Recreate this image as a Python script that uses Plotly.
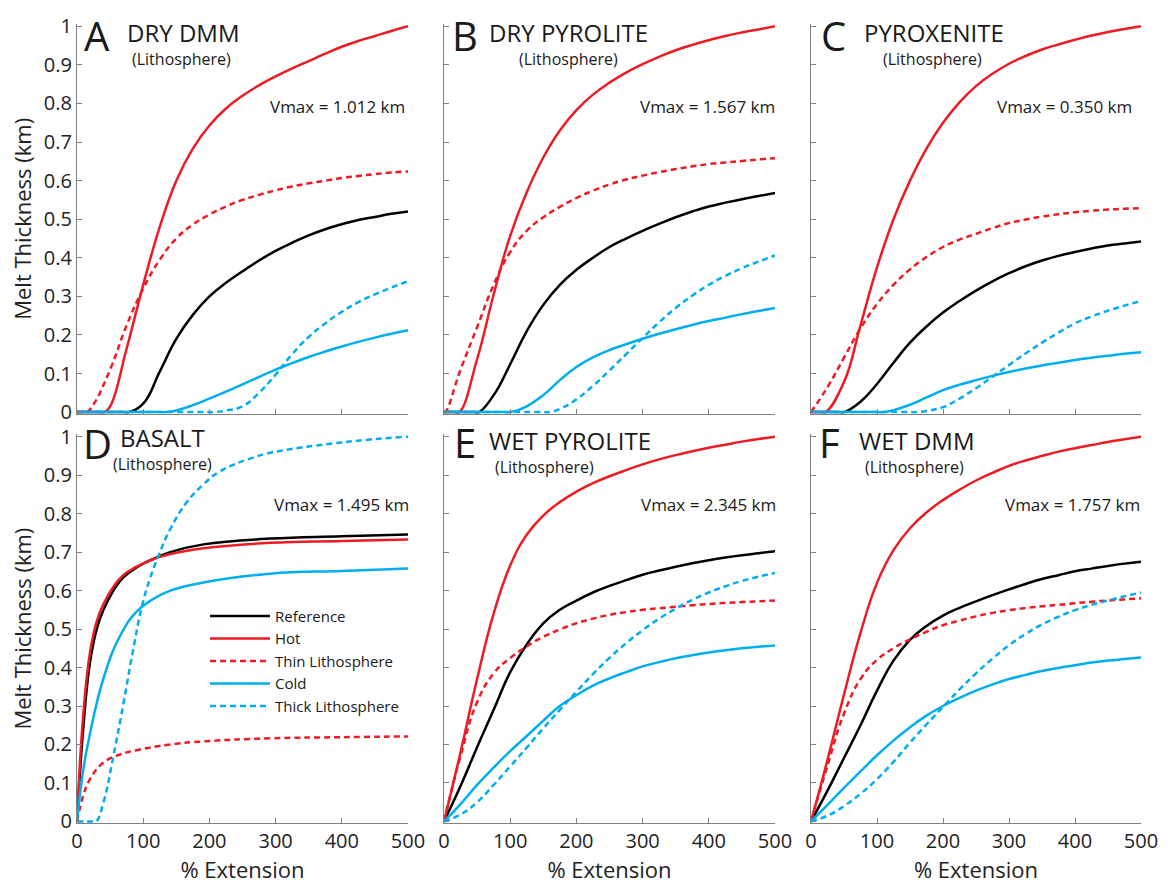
import plotly.graph_objects as go

# ---------------- data ----------------
# Panel A: DRY DMM
A_ref_x = [0, 70, 78, 100, 125, 150, 175, 200, 225, 250, 275, 300, 325, 350, 375, 400, 425, 450, 475, 500]
A_ref_y = [0, 0, 0, 0.022, 0.105, 0.19, 0.252, 0.30, 0.335, 0.365, 0.393, 0.418, 0.439, 0.458, 0.474, 0.487, 0.498, 0.506, 0.514, 0.52]
A_hot_x = [0, 34, 41, 50, 75, 100, 125, 150, 175, 200, 225, 250, 275, 300, 325, 350, 375, 400, 425, 450, 475, 500]
A_hot_y = [0, 0, 0, 0.015, 0.165, 0.33, 0.48, 0.60, 0.683, 0.743, 0.787, 0.82, 0.847, 0.87, 0.891, 0.91, 0.929, 0.947, 0.962, 0.975, 0.988, 1.0]
A_thin_x = [0, 9, 15, 25, 50, 75, 100, 125, 150, 175, 200, 225, 250, 275, 300, 325, 350, 375, 400, 425, 450, 475, 500]
A_thin_y = [0, 0, 0, 0.02, 0.11, 0.225, 0.32, 0.395, 0.45, 0.486, 0.512, 0.533, 0.55, 0.563, 0.575, 0.585, 0.593, 0.600, 0.607, 0.612, 0.617, 0.621, 0.624]
A_cold_x = [0, 126, 136, 150, 175, 200, 225, 250, 275, 300, 325, 350, 375, 400, 425, 450, 475, 500]
A_cold_y = [0, 0, 0, 0.004, 0.018, 0.035, 0.053, 0.072, 0.091, 0.11, 0.127, 0.143, 0.157, 0.17, 0.182, 0.193, 0.203, 0.212]
A_thick_x = [0, 195, 206, 225, 250, 275, 300, 325, 350, 375, 400, 425, 450, 475, 500]
A_thick_y = [0, 0, 0, 0.004, 0.015, 0.05, 0.097, 0.15, 0.195, 0.23, 0.26, 0.285, 0.305, 0.323, 0.339]

# Panel B: DRY PYROLITE
B_ref_x = [0, 45, 53, 75, 100, 125, 150, 175, 200, 225, 250, 275, 300, 325, 350, 375, 400, 425, 450, 475, 500]
B_ref_y = [0, 0, 0, 0.044, 0.124, 0.21, 0.278, 0.33, 0.369, 0.40, 0.428, 0.45, 0.47, 0.488, 0.505, 0.52, 0.533, 0.543, 0.552, 0.56, 0.568]
B_hot_x = [0, 16, 23, 50, 75, 100, 125, 150, 175, 200, 225, 250, 275, 300, 325, 350, 375, 400, 425, 450, 475, 500]
B_hot_y = [0, 0, 0, 0.137, 0.305, 0.457, 0.57, 0.66, 0.73, 0.783, 0.823, 0.854, 0.88, 0.902, 0.921, 0.938, 0.952, 0.964, 0.975, 0.984, 0.992, 1.0]
B_thin_x = [0, 2, 25, 50, 75, 100, 125, 150, 175, 200, 225, 250, 275, 300, 325, 350, 375, 400, 425, 450, 475, 500]
B_thin_y = [0, 0, 0.11, 0.22, 0.33, 0.415, 0.47, 0.505, 0.532, 0.555, 0.574, 0.59, 0.603, 0.613, 0.622, 0.63, 0.637, 0.643, 0.647, 0.651, 0.655, 0.658]
B_cold_x = [0, 90, 100, 125, 150, 175, 200, 225, 250, 275, 300, 325, 350, 375, 400, 425, 450, 475, 500]
B_cold_y = [0, 0, 0, 0.015, 0.044, 0.083, 0.117, 0.142, 0.161, 0.176, 0.19, 0.203, 0.215, 0.226, 0.236, 0.245, 0.254, 0.262, 0.27]
B_thick_x = [0, 150, 161, 175, 200, 225, 250, 275, 300, 325, 350, 375, 400, 425, 450, 475, 500]
B_thick_y = [0, 0, 0, 0.008, 0.033, 0.068, 0.108, 0.15, 0.192, 0.233, 0.27, 0.302, 0.33, 0.353, 0.373, 0.39, 0.406]

# Panel C: PYROXENITE
C_ref_x = [0, 42, 50, 75, 100, 125, 150, 175, 200, 225, 250, 275, 300, 325, 350, 375, 400, 425, 450, 475, 500]
C_ref_y = [0, 0, 0, 0.027, 0.073, 0.128, 0.18, 0.222, 0.258, 0.288, 0.315, 0.339, 0.36, 0.378, 0.393, 0.405, 0.415, 0.424, 0.432, 0.437, 0.442]
C_hot_x = [0, 15, 22, 50, 75, 100, 125, 150, 175, 200, 225, 250, 275, 300, 325, 350, 375, 400, 425, 450, 475, 500]
C_hot_y = [0, 0, 0, 0.078, 0.225, 0.375, 0.50, 0.60, 0.683, 0.750, 0.803, 0.845, 0.877, 0.903, 0.923, 0.94, 0.953, 0.965, 0.976, 0.985, 0.993, 1.0]
C_thin_x = [0, 25, 50, 75, 100, 125, 150, 175, 200, 225, 250, 275, 300, 325, 350, 375, 400, 425, 450, 475, 500]
C_thin_y = [0, 0.065, 0.141, 0.217, 0.28, 0.33, 0.37, 0.402, 0.428, 0.447, 0.462, 0.477, 0.49, 0.499, 0.507, 0.513, 0.518, 0.522, 0.525, 0.527, 0.529]
C_cold_x = [0, 100, 110, 125, 150, 175, 200, 225, 250, 275, 300, 325, 350, 375, 400, 425, 450, 475, 500]
C_cold_y = [0, 0, 0, 0.005, 0.019, 0.038, 0.057, 0.071, 0.083, 0.094, 0.104, 0.113, 0.121, 0.128, 0.135, 0.141, 0.146, 0.151, 0.155]
C_thick_x = [0, 150, 160, 175, 200, 225, 250, 275, 300, 325, 350, 375, 400, 425, 450, 475, 500]
C_thick_y = [0, 0, 0, 0.003, 0.013, 0.035, 0.062, 0.092, 0.122, 0.152, 0.18, 0.206, 0.23, 0.248, 0.263, 0.276, 0.288]

# Panel D: BASALT
D_ref_x = [0, 9.6, 19.7, 29.8, 40, 55, 70, 90, 116, 141, 191, 292, 400, 500]
D_ref_y = [0, 0.245, 0.414, 0.5, 0.55, 0.6, 0.634, 0.66, 0.683, 0.70, 0.72, 0.735, 0.741, 0.746]
D_hot_x = [0, 9.6, 19.7, 29.8, 40, 55, 70, 90, 116, 141, 191, 292, 400, 500]
D_hot_y = [0, 0.28, 0.44, 0.52, 0.565, 0.61, 0.64, 0.662, 0.682, 0.695, 0.71, 0.724, 0.729, 0.733]
D_thin_x = [0, 9.6, 19.7, 40, 65, 90, 141, 191, 292, 400, 500]
D_thin_y = [0, 0.068, 0.11, 0.153, 0.174, 0.185, 0.2, 0.208, 0.216, 0.219, 0.221]
D_cold_x = [0, 9.6, 19.7, 40, 65, 90, 116, 141, 191, 292, 400, 500]
D_cold_y = [0, 0.136, 0.229, 0.372, 0.482, 0.545, 0.579, 0.6, 0.621, 0.644, 0.651, 0.657]
D_thick_x = [0, 24, 29, 40, 55, 70, 85, 98, 110, 123, 141, 166, 191, 216, 267, 292, 400, 500]
D_thick_y = [0, 0, 0, 0.05, 0.17, 0.305, 0.448, 0.558, 0.63, 0.69, 0.76, 0.83, 0.876, 0.91, 0.946, 0.958, 0.985, 1.0]

# Panels E and F share one extension grid
EF_x = [0, 25, 50, 75, 100, 125, 150, 175, 200, 225, 250, 275, 300, 325, 350, 375, 400, 425, 450, 475, 500]

# Panel E: WET PYROLITE
E_ref_y = [0, 0.092, 0.193, 0.29, 0.388, 0.46, 0.515, 0.55, 0.574, 0.595, 0.612, 0.627, 0.641, 0.652, 0.662, 0.671, 0.679, 0.686, 0.692, 0.697, 0.702]
E_hot_y = [0, 0.18, 0.37, 0.54, 0.665, 0.745, 0.795, 0.830, 0.857, 0.879, 0.897, 0.913, 0.928, 0.941, 0.952, 0.962, 0.971, 0.979, 0.987, 0.994, 1.0]
E_thin_y = [0, 0.17, 0.31, 0.385, 0.425, 0.455, 0.48, 0.499, 0.515, 0.527, 0.537, 0.544, 0.55, 0.554, 0.558, 0.562, 0.565, 0.568, 0.57, 0.572, 0.574]
E_cold_y = [0, 0.045, 0.095, 0.14, 0.183, 0.222, 0.262, 0.3, 0.328, 0.353, 0.372, 0.388, 0.403, 0.414, 0.424, 0.432, 0.439, 0.445, 0.45, 0.454, 0.457]
E_thick_y = [0, 0.018, 0.05, 0.095, 0.143, 0.192, 0.242, 0.29, 0.337, 0.383, 0.425, 0.463, 0.497, 0.527, 0.553, 0.576, 0.595, 0.611, 0.625, 0.636, 0.646]

# Panel F: WET DMM
F_ref_y = [0, 0.08, 0.165, 0.25, 0.34, 0.418, 0.472, 0.508, 0.535, 0.555, 0.572, 0.588, 0.603, 0.617, 0.63, 0.64, 0.65, 0.657, 0.664, 0.67, 0.675]
F_hot_y = [0, 0.16, 0.33, 0.49, 0.62, 0.705, 0.762, 0.803, 0.835, 0.862, 0.886, 0.906, 0.924, 0.938, 0.95, 0.961, 0.97, 0.978, 0.986, 0.993, 1.0]
F_thin_y = [0, 0.145, 0.28, 0.37, 0.42, 0.45, 0.473, 0.493, 0.51, 0.522, 0.533, 0.542, 0.549, 0.555, 0.559, 0.563, 0.567, 0.571, 0.574, 0.577, 0.58]
F_cold_y = [0, 0.043, 0.087, 0.13, 0.172, 0.21, 0.245, 0.275, 0.3, 0.321, 0.34, 0.356, 0.37, 0.381, 0.391, 0.399, 0.406, 0.413, 0.418, 0.422, 0.426]
F_thick_y = [0, 0.015, 0.04, 0.072, 0.11, 0.155, 0.205, 0.252, 0.298, 0.343, 0.385, 0.423, 0.458, 0.487, 0.512, 0.532, 0.549, 0.563, 0.574, 0.585, 0.595]

panel_letters = ["A", "B", "C", "D", "E", "F"]
panel_titles = ["DRY DMM", "DRY PYROLITE", "PYROXENITE", "BASALT", "WET PYROLITE", "WET DMM"]
panel_vmax = ["Vmax = 1.012 km", "Vmax = 1.567 km", "Vmax = 0.350 km",
              "Vmax = 1.495 km", "Vmax = 2.345 km", "Vmax = 1.757 km"]
series_names = ["Reference", "Hot", "Thin Lithosphere", "Cold", "Thick Lithosphere"]
x_ticks = [0, 100, 200, 300, 400, 500]
y_ticks = [0, 0.1, 0.2, 0.3, 0.4, 0.5, 0.6, 0.7, 0.8, 0.9, 1]

panels = [
    [(A_ref_x, A_ref_y), (A_hot_x, A_hot_y), (A_thin_x, A_thin_y), (A_cold_x, A_cold_y), (A_thick_x, A_thick_y)],
    [(B_ref_x, B_ref_y), (B_hot_x, B_hot_y), (B_thin_x, B_thin_y), (B_cold_x, B_cold_y), (B_thick_x, B_thick_y)],
    [(C_ref_x, C_ref_y), (C_hot_x, C_hot_y), (C_thin_x, C_thin_y), (C_cold_x, C_cold_y), (C_thick_x, C_thick_y)],
    [(D_ref_x, D_ref_y), (D_hot_x, D_hot_y), (D_thin_x, D_thin_y), (D_cold_x, D_cold_y), (D_thick_x, D_thick_y)],
    [(EF_x, E_ref_y), (EF_x, E_hot_y), (EF_x, E_thin_y), (EF_x, E_cold_y), (EF_x, E_thick_y)],
    [(EF_x, F_ref_y), (EF_x, F_hot_y), (EF_x, F_thin_y), (EF_x, F_cold_y), (EF_x, F_thick_y)],
]

# ---------------- styling ----------------
FONT = "Open Sans"
RED = "#ED1C24"
BLUE = "#00AEEF"
BLACK = "#000000"
styles = [
    dict(color=BLACK, dash="solid"),
    dict(color=RED, dash="solid"),
    dict(color=RED, dash="6px,4px"),
    dict(color=BLUE, dash="solid"),
    dict(color=BLUE, dash="6px,4px"),
]

W, H = 1174, 886
ML, MR, MT, MB = 77, 33, 15, 59
pw = W - ML - MR
ph = H - MT - MB

def px_x(p):
    return (p - ML) / pw

def px_y(p):
    return (H - MB - p) / ph

x_domains = [(px_x(77), px_x(408)), (px_x(444), px_x(775)), (px_x(811), px_x(1141))]
y_domains = [(px_y(411), px_y(15)), (px_y(827), px_y(432))]

fig = go.Figure()

# annotation positions inside each panel (fractions of the panel domain)
letter_pos = [(0.06, 0.97), (0.063, 0.97), (0.068, 0.97), (0.062, 0.977), (0.062, 0.98), (0.057, 0.98)]
title_pos = [(0.145, 0.977), (0.13, 0.977), (0.154, 0.977), (0.124, 0.992), (0.13, 0.985), (0.139, 0.985)]
litho_pos = [(0.316, 0.909), (0.375, 0.909), (0.367, 0.909), (0.257, 0.924), (0.305, 0.916), (0.313, 0.916)]
vmax_pos = [(0.997, 0.788), (1.006, 0.788), (0.979, 0.788), (1.009, 0.82), (1.009, 0.82), (1.003, 0.82)]

TXT = "#1a1a1a"
annotations = []
for i in range(6):
    r, c = divmod(i, 3)
    ax_id = "" if i == 0 else str(i + 1)
    xa = "xaxis" + ax_id
    ya = "yaxis" + ax_id
    for k, (xs, ys) in enumerate(panels[i]):
        fig.add_trace(go.Scatter(
            x=xs, y=ys, mode="lines", name=series_names[k],
            line=dict(color=styles[k]["color"], dash=styles[k]["dash"], width=2.5,
                      shape="spline", smoothing=1.3),
            showlegend=(i == 3), legendrank=k + 1,
            xaxis="x" + ax_id, yaxis="y" + ax_id, hoverinfo="skip",
        ))
    fig.layout[xa] = dict(
        domain=list(x_domains[c]), range=[0, 500], anchor="y" + ax_id,
        tickvals=x_ticks, ticks="inside", ticklen=5, tickwidth=1, tickcolor="#808080",
        showline=True, linecolor="#808080", linewidth=1.3, showgrid=False, zeroline=False,
        showticklabels=(r == 1),
        tickfont=dict(family=FONT, size=20, color="#222222"),
        title=dict(text="% Extension" if r == 1 else "", font=dict(family=FONT, size=22, color="#222222"),
                   standoff=4),
    )
    fig.layout[ya] = dict(
        domain=list(y_domains[r]), range=[-0.004, 1.006], anchor="x" + ax_id,
        tickvals=y_ticks, ticks="inside", ticklen=5, tickwidth=1, tickcolor="#808080",
        showline=True, linecolor="#808080", linewidth=1.3, showgrid=False, zeroline=False,
        showticklabels=(c == 0),
        tickfont=dict(family=FONT, size=20, color="#222222"),
        title=dict(text="Melt Thickness (km)" if c == 0 else "",
                   font=dict(family=FONT, size=22, color="#222222"), standoff=6),
    )
    xr = "x" + ax_id + " domain"
    yr = "y" + ax_id + " domain"
    annotations.append(dict(text=panel_letters[i], x=letter_pos[i][0], y=letter_pos[i][1], xref=xr, yref=yr,
                            xanchor="center", yanchor="middle", showarrow=False,
                            font=dict(family=FONT, size=40, color=TXT)))
    annotations.append(dict(text=panel_titles[i], x=title_pos[i][0], y=title_pos[i][1], xref=xr, yref=yr,
                            xanchor="left", yanchor="middle", showarrow=False,
                            font=dict(family=FONT, size=24, color=TXT)))
    annotations.append(dict(text="(Lithosphere)", x=litho_pos[i][0], y=litho_pos[i][1], xref=xr, yref=yr,
                            xanchor="center", yanchor="middle", showarrow=False,
                            font=dict(family=FONT, size=16, color=TXT)))
    annotations.append(dict(text=panel_vmax[i], x=vmax_pos[i][0], y=vmax_pos[i][1], xref=xr, yref=yr,
                            xanchor="right", yanchor="middle", showarrow=False,
                            font=dict(family=FONT, size=17, color=TXT)))

fig.update_layout(
    width=W, height=H,
    margin=dict(l=ML, r=MR, t=MT, b=MB),
    paper_bgcolor="white", plot_bgcolor="white",
    annotations=annotations,
    showlegend=True,
    legend=dict(x=px_x(205), y=px_y(600), xanchor="left", yanchor="top",
                bgcolor="rgba(0,0,0,0)", font=dict(family=FONT, size=15, color=TXT),
                tracegroupgap=0, itemwidth=60),
    font=dict(family=FONT),
)

fig.write_html("out.html")
